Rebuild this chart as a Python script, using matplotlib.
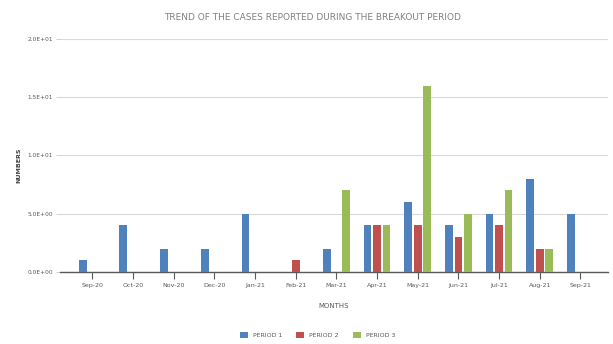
import numpy as np
import matplotlib.pyplot as plt
from matplotlib.ticker import FuncFormatter

# months on the x axis
months = ['Sep-20', 'Oct-20', 'Nov-20', 'Dec-20', 'Jan-21', 'Feb-21', 'Mar-21',
          'Apr-21', 'May-21', 'Jun-21', 'Jul-21', 'Aug-21', 'Sep-21']

# cases per period
period1 = [1, 4, 2, 2, 5, 0, 2, 4, 6, 4, 5, 8, 5]
period2 = [0, 0, 0, 0, 0, 1, 0, 4, 4, 3, 4, 2, 0]
period3 = [0, 0, 0, 0, 0, 0, 7, 4, 16, 5, 7, 2, 0]
series_names = ['PERIOD 1', 'PERIOD 2', 'PERIOD 3']

colors = ['#4F81BD', '#C0504D', '#9BBB59']

plt.rcParams['font.family'] = ['DejaVu Sans']

fig = plt.figure(figsize=(6.13, 3.44), dpi=100)
ax = fig.add_axes([0.098, 0.209, 0.894, 0.678])

x = np.arange(len(months))
w = 0.19
off = 0.235
for k, vals in enumerate([period1, period2, period3]):
    ax.bar(x + (k - 1) * off, vals, width=w, color=colors[k],
           label=series_names[k], zorder=3)

ax.set_xlim(-0.79, 12.68)
ax.set_ylim(0, 20)
ax.set_yticks([0, 5, 10, 15, 20])
ax.yaxis.set_major_formatter(FuncFormatter(lambda v, p: '%.1E' % v))
ax.grid(axis='y', color='#D9D9D9', linewidth=0.8, zorder=0)

for s in ['top', 'right', 'left']:
    ax.spines[s].set_visible(False)
ax.spines['bottom'].set_color('#595959')
ax.spines['bottom'].set_linewidth(1.0)

ax.set_xticks(x)
ax.set_xticklabels(months, fontsize=4.5, color='#595959')
ax.tick_params(axis='x', length=5, width=0.8, color='#595959', pad=3)
ax.tick_params(axis='y', length=3, width=0.5, color='#BFBFBF', labelsize=4.2,
               labelcolor='#595959', pad=2)

# title sits at the middle of the whole figure, not the axes
fig.text(0.51, 0.95, 'TREND OF THE CASES REPORTED DURING THE BREAKOUT PERIOD',
         ha='center', va='center', fontsize=6.5, color='#808080')
ax.set_ylabel('NUMBERS', fontsize=4.5, fontweight='bold', color='#404040')
ax.yaxis.set_label_coords(-0.07, 0.46)
ax.set_xlabel('MONTHS', fontsize=5, color='#595959', labelpad=11)

fig.legend(loc='lower center', bbox_to_anchor=(0.518, 0.0), ncol=3,
           frameon=False, fontsize=4.5, handlelength=1.3, handleheight=1.3,
           columnspacing=2.2, labelcolor='#595959')

fig.savefig('out.png', dpi=100)
